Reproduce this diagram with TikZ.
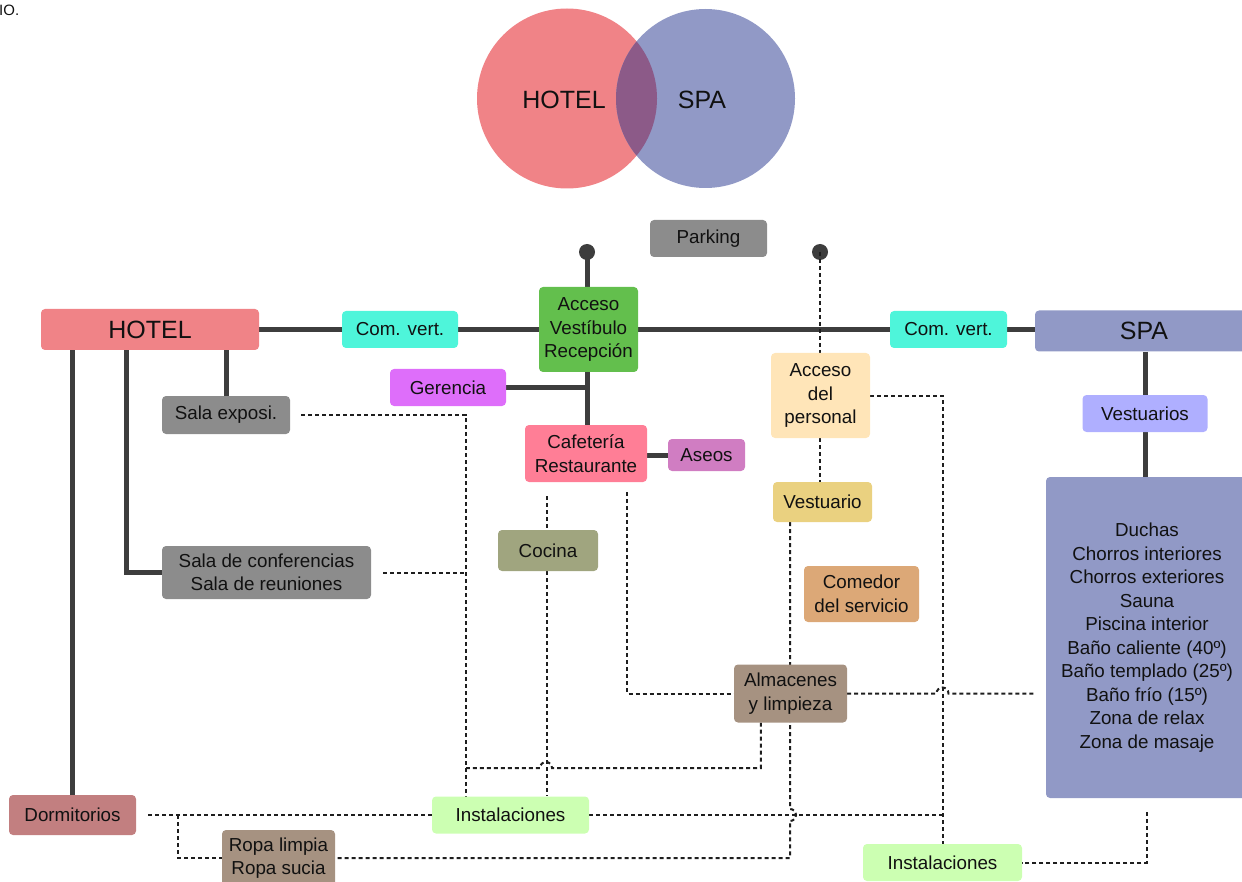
\documentclass[tikz,border=0pt]{standalone}
\usepackage{fontspec}
\setmainfont{Liberation Sans}
\usetikzlibrary{backgrounds,calc}
\definecolor{txt}{HTML}{111111}
\definecolor{lnk}{HTML}{3D3D3D}
\definecolor{dotc}{HTML}{1E1E1E}
\definecolor{cHotel}{HTML}{F08387}
\definecolor{cSpa}{HTML}{9199C6}
\definecolor{cOver}{HTML}{8C5A88}
\definecolor{cCom}{HTML}{4EF5DA}
\definecolor{cAcc}{HTML}{63BF4D}
\definecolor{cGray}{HTML}{8C8C8C}
\definecolor{cGer}{HTML}{DE6EFA}
\definecolor{cCafe}{HTML}{FF7E96}
\definecolor{cAseos}{HTML}{D07DC2}
\definecolor{cPers}{HTML}{FFE5B8}
\definecolor{cVests}{HTML}{AFAFFF}
\definecolor{cVest}{HTML}{EAD180}
\definecolor{cCocina}{HTML}{A0A57F}
\definecolor{cComedor}{HTML}{DCA877}
\definecolor{cAlm}{HTML}{A69281}
\definecolor{cDorm}{HTML}{C27F80}
\definecolor{cInst}{HTML}{CCFFB2}
\begin{document}
\begin{tikzpicture}[x=1pt,y=-1pt,
  box/.style={rounded corners=4pt, inner sep=0pt, align=center, text=txt,
    font=\fontsize{18.8}{23.5}\selectfont},
  bigtxt/.style={font=\fontsize{25}{30}\selectfont},
  sline/.style={line width=5pt, draw=lnk},
  dline/.style={line width=2pt, draw=dotc, dash pattern=on 4pt off 3pt}]
\useasboundingbox (0,0) rectangle (1242,882);
% Venn
\fill[cHotel] (567,98.5) circle (90);
\fill[cSpa] (705.5,98.5) circle (89.5);
\begin{scope}
  \clip (567,98.5) circle (90);
  \fill[cOver] (705.5,98.5) circle (89.5);
\end{scope}
\node[text=txt, bigtxt, inner sep=0pt] (vh) at (564,100) {HOTEL};
\node[text=txt, bigtxt, inner sep=0pt] (vs) at (702,100) {SPA};
\node[text=txt, font=\fontsize{15}{18}\selectfont, inner sep=0pt, anchor=west] (io) at (-1,10) {IO.};
% nodes
\node[box, bigtxt, fill=cHotel, minimum width=218, minimum height=41] (hotel) at (150,329.5) {HOTEL};
\node[box, fill=cCom, minimum width=116, minimum height=37] (cv1) at (400,329.5) {Com. vert.};
\node[box, fill=cAcc, minimum width=99, minimum height=85] (acc) at (588.5,329.5) {Acceso\\Vestíbulo\\Recepción};
\node[box, fill=cGray, minimum width=117, minimum height=37] (park) at (708.5,238.5) {Parking};
\node[box, fill=cCom, minimum width=117, minimum height=37] (cv2) at (948.5,329.5) {Com. vert.};
\node[box, bigtxt, fill=cSpa, minimum width=218, minimum height=41] (spa) at (1144,331) {SPA};
\node[box, fill=cGer, minimum width=116, minimum height=37] (ger) at (448,387.5) {Gerencia};
\node[box, fill=cGray, minimum width=128, minimum height=38] (expo) at (226,415) {Sala exposi.};
\node[box, fill=cCafe, minimum width=122, minimum height=57] (cafe) at (586,453.5) {Cafetería\\Restaurante};
\node[box, fill=cAseos, minimum width=77, minimum height=32] (aseos) at (706.5,455) {Aseos};
\node[box, fill=cPers, minimum width=99, minimum height=85] (pers) at (820.5,395.5) {Acceso\\del\\personal};
\node[box, fill=cVests, minimum width=125, minimum height=37] (vests) at (1145,413.5) {Vestuarios};
\node[box, fill=cSpa, minimum width=202, minimum height=321] (big) at (1147,637.5) {Duchas\\Chorros interiores\\Chorros exteriores\\Sauna\\Piscina interior\\Baño caliente (40º)\\Baño templado (25º)\\Baño frío (15º)\\Zona de relax\\Zona de masaje};
\node[box, fill=cVest, minimum width=99, minimum height=40] (vestuario) at (822.5,502) {Vestuario};
\node[box, fill=cCocina, minimum width=100, minimum height=41] (cocina) at (548,550.5) {Cocina};
\node[box, fill=cGray, minimum width=209, minimum height=53] (conf) at (266.5,572.5) {Sala de conferencias\\Sala de reuniones};
\node[box, fill=cComedor, minimum width=115, minimum height=56] (comedor) at (861.5,594) {Comedor\\del servicio};
\node[box, fill=cAlm, minimum width=113, minimum height=58] (alm) at (790.5,693.5) {Almacenes\\y limpieza};
\node[box, fill=cDorm, minimum width=127, minimum height=40] (dorm) at (72.5,815) {Dormitorios};
\node[box, fill=cInst, minimum width=157, minimum height=37] (inst1) at (510.5,815) {Instalaciones};
\node[box, fill=cAlm, minimum width=113, minimum height=56] (ropa) at (278.5,858) {Ropa limpia\\Ropa sucia};
\node[box, fill=cInst, minimum width=159, minimum height=37] (inst2) at (942.5,862.5) {Instalaciones};
% helper coordinates
\coordinate (d1) at (587,252);
\coordinate (d2) at (820,252);
\coordinate (cx1) at (466,768);
\coordinate (cx2) at (790,0);
\coordinate (cx3) at (178,0);
\begin{pgfonlayer}{background}
% solid connectors
\fill[lnk] (d1) circle (8);
\fill[lnk] (d2) circle (8);
\draw[sline] (d1) -- (acc.north -| d1);
\draw[sline] (hotel.east) -- (cv1.west);
\draw[sline] (cv1.east) -- (acc.west);
\draw[sline] (acc.east) -- (cv2.west);
\draw[sline] (cv2.east) -- (cv2.east -| spa.west);
\draw[sline] (hotel.south -| expo.north) -- (expo.north);
\draw[sline] ($(hotel.south west)+(86,0)$) |- (conf.west);
\draw[sline] (hotel.south -| dorm.north) -- (dorm.north);
\draw[sline] (acc.south -| d1) -- (cafe.north -| d1);
\draw[sline] (ger.east) -- (ger.east -| d1);
\draw[sline] (cafe.east |- aseos.west) -- (aseos.west);
\draw[sline] (spa.south -| vests.north) -- (vests.north);
\draw[sline] (vests.south) -- (vests.south |- big.north);
% dotted connectors
\draw[dline] (d2) -- (pers.north -| d2);
\draw[dline] (pers.south -| d2) -- (vestuario.north -| d2);
\draw[dline] ($(vestuario.south)+(38,0)$) -- ($(vestuario.south)+(38,0)$ |- comedor.north);
\draw[dline] (pers.east) -| (inst2.north);
\draw[dline] ($(expo.east)+(11,0)$) -| (cx1 |- inst1.north);
\draw[dline] ($(conf.east)+(12,0)$) -- (conf.east -| cx1);
\draw[dline] ($(cafe.south -| cocina.north)+(-1,14)$) -- ($(cocina.north)+(-1,0)$);
\draw[dline] ($(cocina.south)+(-1,0)$) -- ($(cocina.south |- inst1.north)+(-1,0)$);
\draw[dline] ($(cafe.south)+(41,10)$) |- (alm.west);
\draw[dline] ($(alm.south west)+(27,0)$) |- ($(cx1)+(86,0)$) arc(0:-180:6) -- (cx1);
\draw[dline] (alm.east) -- ($(alm.east -| inst2.north)+(-6,0)$) arc(180:360:6) -- ($(alm.east -| big.west)+(-11,0)$);
\draw[dline] (vestuario.south -| cx2) -- ($(inst1.east -| cx2)+(0,-6)$) arc(-90:90:6) |- (ropa.east);
\draw[dline] ($(dorm.east)+(12,0)$) -- (inst1.west);
\draw[dline] (cx3 |- dorm.east) |- (ropa.west);
\draw[dline] (inst1.east) -- (inst1.east -| inst2.north);
\draw[dline] ($(big.south)+(0,14)$) |- (inst2.east);
\end{pgfonlayer}
\end{tikzpicture}
\end{document}
